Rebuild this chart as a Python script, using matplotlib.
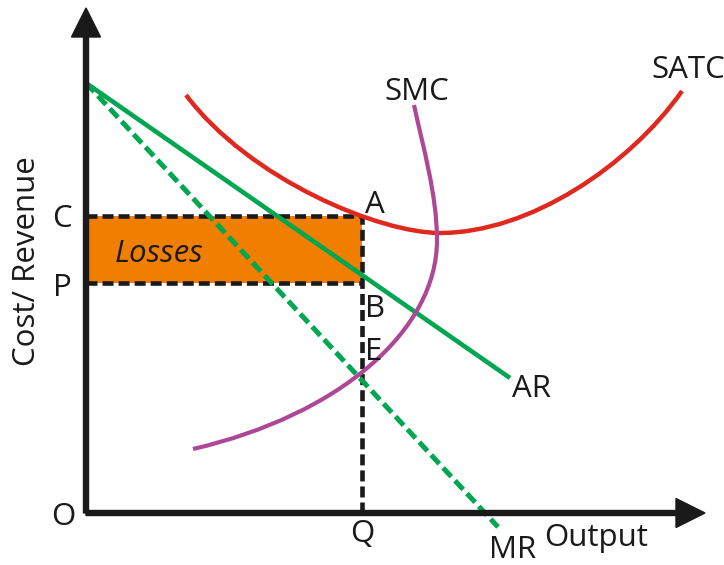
import matplotlib
matplotlib.use("Agg")
import matplotlib.pyplot as plt
from matplotlib.path import Path
from matplotlib.patches import PathPatch, Rectangle

plt.rcParams['font.family'] = ['Open Sans', 'DejaVu Sans']

# values (output along x, cost/revenue along y, origin at O)
q_level = 276          # Q
c_level = 297          # C (SATC at Q)
p_level = 230          # P (AR at Q)
demand_top = 430       # AR / MR intercept on the y axis
ar_end = (424, 135)
mr_end = (412, -14)

# SATC: two cubic Bezier pieces (start, ctrl, ctrl, min, ctrl, ctrl, end)
satc_x = [100, 164, 294, 354, 444, 544, 596]
satc_y = [418, 333, 280, 280, 280, 348, 422]
# SMC: two cubic Bezier pieces, bending back at the top
smc_x = [107, 254, 351, 351, 351, 337, 328]
smc_y = [64, 98, 183, 273, 318, 366, 408]

green = '#00a650'
red = '#e0281e'
purple = '#ad4896'
orange = '#f07f00'
ink = '#1a1a1a'

fig = plt.figure(figsize=(7.24, 5.65), dpi=100)
ax = fig.add_axes([0, 0, 1, 1])
ax.set_xlim(-86, 638)
ax.set_ylim(-52, 513)
ax.axis('off')

# losses box
ax.add_patch(Rectangle((0, p_level), q_level, c_level - p_level,
                       facecolor=orange, edgecolor='none', zorder=1))
dash = dict(color=ink, lw=3.3, linestyle=(0, (2.4, 1.1)), zorder=2)
ax.plot([0, q_level], [c_level, c_level], **dash)
ax.plot([0, q_level], [p_level, p_level], **dash)
ax.plot([q_level, q_level], [0, c_level], **dash)

# AR and MR
ax.plot([0, ar_end[0]], [demand_top, ar_end[1]], color=green, lw=3.3,
        solid_capstyle='butt', zorder=3)
ax.plot([0, mr_end[0]], [demand_top, mr_end[1]], color=green, lw=3.6,
        linestyle=(0, (2.4, 1.1)), zorder=3)

codes = [Path.MOVETO] + [Path.CURVE4] * 6
satc = Path(list(zip(satc_x, satc_y)), codes)
ax.add_patch(PathPatch(satc, facecolor='none', edgecolor=red, lw=3.2,
                       capstyle='butt', zorder=4))
smc = Path(list(zip(smc_x, smc_y)), codes)
ax.add_patch(PathPatch(smc, facecolor='none', edgecolor=purple, lw=3.0,
                       capstyle='butt', zorder=4))

# axes with arrow heads
ax.arrow(0, 0, 0, 505, width=5, head_width=29, head_length=29,
         length_includes_head=True, color=ink, zorder=5)
ax.arrow(0, 0, 619, 0, width=5, head_width=29, head_length=29,
         length_includes_head=True, color=ink, zorder=5)

fs = 22.5
t = dict(fontsize=fs, color=ink, ha='center', va='baseline', zorder=6)
ax.text(331, 413, 'SMC', **t)
ax.text(602, 435, 'SATC', **t)
ax.text(q_level + 13, c_level + 3, 'A', **t)
ax.text(q_level + 13, p_level - 34, 'B', **t)
ax.text(q_level + 12, 153, 'E', **t)
ax.text(ar_end[0] + 22, ar_end[1] - 19, 'AR', **t)
ax.text(mr_end[0] + 15, -45, 'MR', **t)
ax.text(510, -33, 'Output', **t)
ax.text(q_level, -29, 'Q', **t)
ax.text(-23, -12, 'O', **t)
ax.text(-24, c_level - 11, 'C', **t)
ax.text(-24, p_level - 13, 'P', **t)
ax.text(73, 251, 'Losses', fontsize=fs, style='italic', color=ink,
        ha='center', va='baseline', zorder=6)
ax.text(-51, 252, 'Cost/ Revenue', fontsize=fs, color=ink, rotation=90,
        rotation_mode='anchor', ha='center', va='baseline', zorder=6)

fig.savefig('out.png', dpi=100)
